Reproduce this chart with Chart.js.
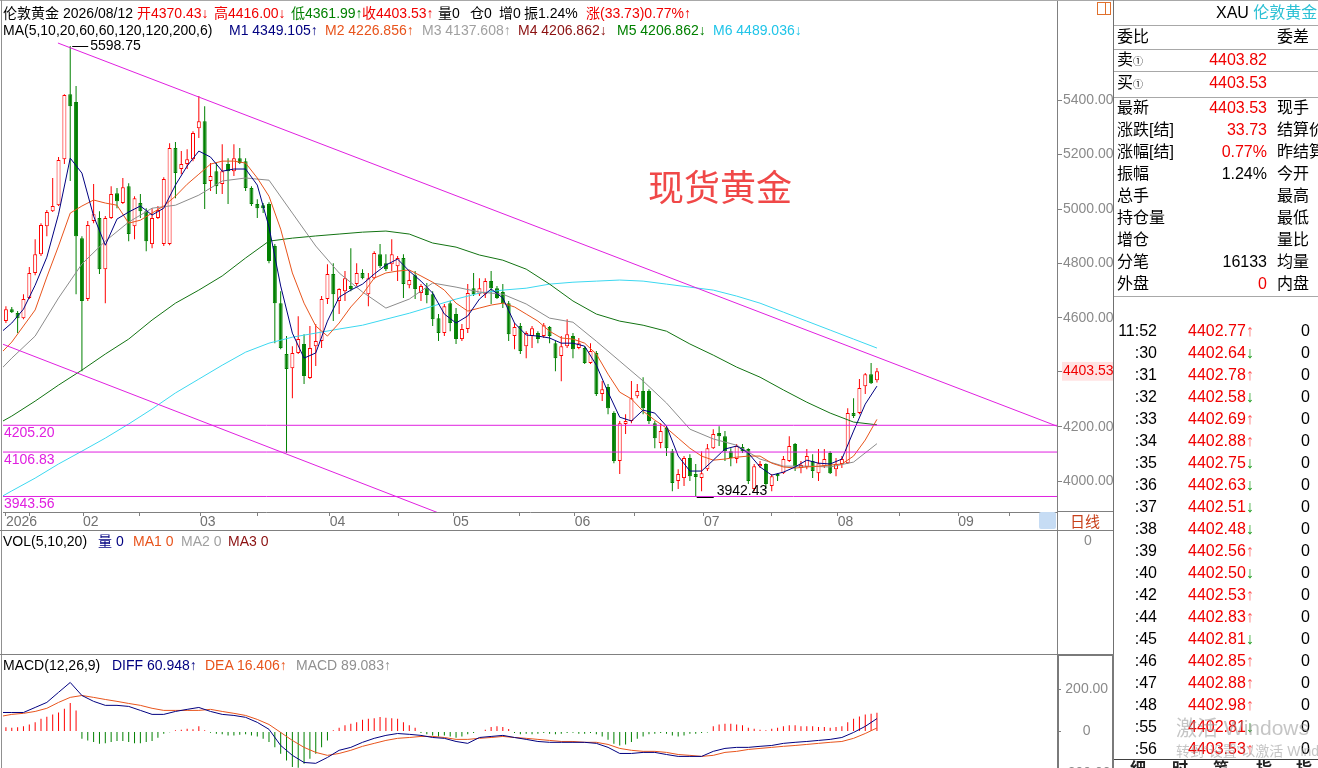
<!DOCTYPE html>
<html><head><meta charset="utf-8">
<script src="https://cdn.jsdelivr.net/npm/chart.js@4.4.1/dist/chart.umd.min.js"></script>
<style>
html,body{margin:0;padding:0;width:1318px;height:768px;overflow:hidden;background:#fff;}
body{position:relative;font-family:"Liberation Sans","Noto Sans CJK SC",sans-serif;}
canvas{position:absolute;left:0;}
#main{top:0px;} #vol{top:531px;} #macd{top:655px;}
.t{position:absolute;white-space:nowrap;font-size:14px;line-height:18px;}
.p{position:absolute;white-space:nowrap;font-size:16px;line-height:20px;}
.ln{position:absolute;background:#a0a0a0;}
</style></head><body>
<canvas id="main" width="1113" height="531"></canvas>
<canvas id="vol" width="1113" height="124"></canvas>
<canvas id="macd" width="1113" height="135"></canvas>
<div id="ov"></div>
<script>
// ---------- DATA ----------
const candleOpen = [4588,4632,4618,4599,4673,4765,4834,4937,4992,5014,
5183,5422,5393,4893,4669,4956,4967,4779,4967,5058,
5022,5084,4937,5022,4992,4871,4967,4871,4871,5224,
5147,5165,5183,5297,5323,5103,5139,5092,5165,5139,
5187,5176,5077,5018,5014,5018,4864,4654,4467,4415,
4471,4504,4379,4496,4515,4669,4761,4662,4698,4717,
4724,4765,4687,4746,4834,4801,4797,4790,4820,4720,
4757,4691,4709,4687,4599,4544,4654,4614,4522,4559,
4709,4687,4687,4735,4709,4695,4654,4533,4570,4496,
4533,4544,4533,4566,4507,4460,4496,4533,4489,4489,
4434,4471,4320,4346,4250,4074,4210,4221,4312,4331,
4331,4213,4140,4195,4110,4000,4011,4085,4026,4011,
4044,4121,4177,4165,4110,4081,4125,4118,3971,4055,
4063,3982,4026,4029,4074,4136,4048,4052,4074,4029,
4055,4103,4044,4063,4066,4250,4250,4349,4393,4370.43];
const candleHigh = [4643,4640,4625,4687,4787,4889,4948,4996,5114,5191,
5422,5598.75,5452,4900,4956,5092,4992,4974,5084,5077,
5114,5095,5047,5055,5003,5003,5011,5117,5242,5246,
5213,5220,5286,5415,5378,5169,5169,5238,5187,5238,
5224,5187,5084,5036,5022,5025,4871,4698,4533,4496,
4606,4540,4570,4577,4680,4797,4801,4709,4772,4856,
4801,4779,4765,4845,4871,4834,4889,4827,4834,4772,
4772,4724,4728,4698,4614,4651,4662,4636,4577,4724,
4765,4746,4746,4772,4717,4724,4662,4581,4581,4551,
4570,4551,4581,4570,4515,4533,4595,4544,4526,4496,
4507,4478,4368,4357,4257,4221,4246,4368,4357,4382,
4338,4221,4213,4202,4118,4044,4092,4099,4063,4110,
4136,4191,4202,4184,4121,4136,4136,4121,4063,4074,
4066,4026,4029,4092,4165,4140,4074,4118,4099,4118,
4118,4110,4085,4092,4268,4305,4375,4397,4434,4416.00];
const candleLow = [4581,4618,4544,4595,4669,4757,4827,4900,4989,5011,
5165,5103,4687,4404,4662,4948,4761,4654,4963,5003,
5018,4882,4889,4967,4845,4856,4963,4864,4867,5040,
5128,5147,5176,5261,5000,5066,5055,5055,5018,5121,
5165,5066,5011,4967,4985,4801,4507,4485,4103,4305,
4467,4357,4375,4423,4489,4651,4588,4614,4662,4698,
4717,4742,4643,4742,4783,4772,4772,4735,4673,4709,
4669,4662,4654,4570,4515,4533,4551,4504,4515,4544,
4680,4680,4673,4651,4669,4636,4515,4485,4467,4452,
4489,4507,4526,4507,4404,4367,4489,4452,4485,4430,
4430,4313,4294,4246,4066,4026,4173,4213,4305,4246,
4210,4121,4121,4092,3963,3971,3982,4000,3942.43,3963,
4037,4118,4129,4074,4055,4066,4103,3989,3963,4048,
3971,3963,4000,4026,4070,4037,4029,4044,4011,4000,
4048,4026,4018,4048,4063,4232,4246,4320,4357,4361.99];
const candleClose = [4632,4621,4599,4669,4765,4834,4941,4989,5011,5180,
5419,5378,4900,4662,4941,4981,4779,4967,5055,5029,
5080,4908,5040,4992,4882,4967,4996,5110,5224,5132,
5165,5183,5279,5323,5092,5121,5084,5139,5139,5187,
5169,5077,5018,5003,5003,4809,4654,4489,4412,4471,
4522,4386,4489,4515,4669,4761,4687,4706,4746,4706,
4765,4746,4746,4838,4790,4779,4834,4820,4724,4739,
4706,4717,4684,4595,4544,4643,4581,4522,4559,4691,
4687,4709,4735,4709,4673,4654,4540,4566,4478,4544,
4562,4522,4573,4533,4452,4496,4540,4485,4507,4434,
4478,4320,4338,4268,4074,4213,4221,4305,4331,4268,
4221,4158,4184,4121,3993,4026,4085,4018,4015,4029,
4121,4173,4165,4110,4085,4129,4110,4000,4055,4063,
3989,4018,4018,4081,4129,4055,4059,4092,4037,4066,
4081,4029,4063,4081,4250,4239,4342,4393,4360,4403.53];

// moving averages (MA5/MA10 every 2 candles from index -1, others every 4 from index -3)
const ma5 = [4544,4581,4632,4720,4823,4981,5187,5132,4974,4867,
4963,4989,5011,4978,5003,5088,5158,5213,5191,5139,
5147,5147,5088,4934,4717,4544,4452,4471,4588,4676,
4702,4724,4761,4794,4816,4772,4735,4691,4614,4581,
4607,4669,4706,4673,4581,4537,4533,4526,4507,4507,
4496,4426,4327,4235,4221,4261,4250,4202,4092,4037,
4037,4077,4118,4129,4103,4052,4022,4033,4052,4077,
4066,4063,4081,4184,4283,4349.105];
const ma10 = [4467,4511,4570,4629,4750,4864,4985,5011,5033,5022,
5014,4948,4959,4985,5011,5047,5091,5128,5165,5176,
5176,5169,5114,5047,4926,4765,4654,4570,4533,4581,
4640,4687,4746,4765,4772,4776,4754,4731,4702,4654,
4625,4636,4647,4654,4640,4614,4588,4551,4526,4522,
4507,4467,4393,4327,4302,4257,4224,4195,4158,4121,
4092,4077,4081,4088,4092,4092,4066,4052,4048,4052,
4055,4059,4063,4092,4151,4226.856];
const ma20 = [4364,4452,4533,4673,4798,4882,4952,5003,5014,5051,
5103,5114,5106,4985,4864,4765,4695,4636,4669,4728,
4713,4695,4687,4651,4599,4584,4514,4441,4368,4287,
4191,4155,4132,4081,4055,4055,4052,4070,4137.608];
const ma60 = [4191,4239,4294,4353,4408,4467,4522,4592,4654,4702,
4754,4820,4882,4893,4901,4908,4915,4919,4908,4875,
4860,4831,4812,4779,4724,4662,4614,4588,4573,4551,
4504,4463,4419,4382,4335,4290,4250,4217,4206.862];
const ma120 = [3916,3964,4011,4063,4110,4158,4210,4265,4324,4375,
4426,4474,4507,4529,4544,4559,4573,4595,4617,4643,
4669,4691,4702,4709,4724,4731,4735,4739,4735,4724,
4713,4702,4680,4654,4621,4588,4555,4522,4489.036];

const macdDiff = [90,90,90,114,138,186,233,171,143,124,124,
119,100,81,81,95,105,114,95,81,76,
67,43,10,-67,-114,-148,-152,-124,-90,-76,
-52,-33,-19,-10,-14,-19,-29,-33,-48,-57,
-29,-24,-19,-29,-38,-48,-52,-52,-52,-52,
-57,-76,-105,-105,-100,-100,-110,-119,-119,-119,
-95,-81,-76,-76,-71,-67,-57,-52,-48,-43,
-38,-29,-5,24,60.948];
const macdDea = [71,81,86,95,110,138,162,171,162,152,143,
133,124,110,100,100,100,100,105,95,86,
76,57,33,-5,-43,-76,-100,-114,-105,-90,
-71,-57,-43,-33,-29,-24,-24,-29,-38,-38,
-33,-29,-24,-29,-33,-38,-43,-48,-48,-52,
-52,-62,-81,-90,-95,-95,-100,-110,-114,-119,
-114,-100,-95,-86,-81,-76,-71,-67,-62,-57,
-52,-48,-33,-10,16.406];
const macdHist = [20,17,20,24,33,44,60,70,80,90,108,135,100,
-35,-43,-51,-59,-56,-51,-46,-46,-51,-56,-56,-51,-46,-30,
-11,-4,5,8,13,10,24,5,
-6,-11,-14,-19,-19,-16,-14,-19,-24,-35,-51,-75,-106,-138,-170,-173,-154,-130,-106,-75,-43,
5,17,29,37,44,56,60,63,68,65,63,60,44,29,17,
-8,-14,-19,-24,-19,-24,-30,-24,-14,-8,-3,
8,21,24,21,11,
-8,-14,-11,-14,-11,-8,-11,-14,-11,-8,-6,-11,-11,-8,-14,-24,-40,-59,-67,-62,-51,-35,-24,-14,-11,-8,-11,-19,-24,-19,-11,-11,-8,-5,
24,33,37,37,33,29,17,13,8,5,13,17,24,29,29,24,24,24,21,21,17,21,24,44,60,71,81,84,89.083];

const levelPrices = [4205.20, 4106.83, 3943.56];
const trendUpperIdx = [8.9, 179.8], trendUpperPrice = [5610, 4202];
const trendLowerIdx = [-0.5, 81.1], trendLowerPrice = [4503, 3824];

const priceTicks = [4000, 4200, 4600, 4800, 5000, 5200, 5400];
const lastPrice = 4403.53;
const monthTickIdx = [0, 13.2, 33.2, 55.4, 76.5, 97.3, 119.4, 142.3, 162.9];
const monthTickText = ['2026','02','03','04','05','06','07','08','09'];
const midTickIdx = [4, 22.9, 43.1, 67.1, 87.8, 107.6, 131, 152.9, 171.7];
const macdTicks = [-200, 0, 200];
const volTicks = [0];

const quoteLabels = ['最新','涨跌[结]','涨幅[结]','振幅','总手','持仓量','增仓','分笔','外盘'];
const quoteValues = ['4403.53','33.73','0.77%','1.24%','','','','16133','0'];
const quoteRight  = ['现手','结算价','昨结算','今开','最高','最低','量比','均量','内盘'];
const tickTimes = ['11:52',':30',':31',':32',':33',':34',':35',':36',':37',':38',':39',':40',':42',':44',':45',':46',':47',':48',':55',':56'];
const tickPrices = [4402.77,4402.64,4402.78,4402.58,4402.69,4402.88,4402.75,4402.63,4402.51,4402.48,4402.56,4402.50,4402.53,4402.83,4402.81,4402.85,4402.88,4402.98,4402.81,4403.53];
const tickDirs = ['↑','↓','↑','↓','↑','↑','↓','↓','↓','↓','↑','↓','↑','↑','↓','↑','↑','↑','↓','↑'];
const tickVols = [0,0,0,0,0,0,0,0,0,0,0,0,0,0,0,0,0,0,0,0];

// ---------- STYLE ----------
const RED='#ff0000', GREEN='#008000', NAVY='#000080', ORANGE='#e8541c', GRAY='#8c8c8c',
      DKGREEN='#127312', CYAN='#3cd8f0', MAG='#e020e0', AXC='#808080';
const xMin = -0.5, xMax = 179.8;
const yMin = 3886.5, yMax = 5764.5;
Chart.defaults.font.family = '"Liberation Sans","Noto Sans CJK SC",sans-serif';
Chart.defaults.font.size = 14;

const pts = (arr, start, step) => arr.map((v,k)=>({x:start+k*step, y:v}));
const line = (data, color, order) => ({type:'line', data, borderColor:color, borderWidth:1, pointRadius:0, fill:false, tension:0, order});
const isUp = i => candleClose[i] >= candleOpen[i];
const idx = candleClose.map((_,i)=>i);
const fitX = h => s => { s.height = h; s.paddingLeft = 0; s.paddingRight = 0; };
const fitY = s => { s.width = 56; s.paddingTop = 0; s.paddingBottom = 0; };
const hiddenX = () => ({type:'linear', min:xMin, max:xMax, offset:false, display:true,
  grid:{display:false, drawTicks:false, offset:false}, border:{display:false}, ticks:{display:false},
  afterFit:fitX(0)});
const baseOpts = {responsive:false, animation:false, devicePixelRatio:1,
  plugins:{legend:{display:false}, tooltip:{enabled:false}}};

const annot = {
  id:'annot',
  afterDatasetsDraw(chart){
    const {ctx, scales:{x,y}, chartArea} = chart;
    ctx.save();
    ctx.font = '14px "Liberation Sans"';
    const hi = Math.max(...candleHigh), hiI = candleHigh.indexOf(hi);
    let px = x.getPixelForValue(hiI), py = Math.round(y.getPixelForValue(hi))+0.5;
    ctx.strokeStyle='#000'; ctx.lineWidth=1;
    ctx.beginPath(); ctx.moveTo(px+2,py); ctx.lineTo(px+18,py); ctx.stroke();
    ctx.fillStyle='#000'; ctx.textBaseline='middle'; ctx.textAlign='left';
    ctx.fillText(hi.toFixed(2), px+20, py);
    const lo = Math.min(...candleLow), loI = candleLow.indexOf(lo);
    px = x.getPixelForValue(loI); py = Math.round(y.getPixelForValue(lo))+0.5;
    ctx.beginPath(); ctx.moveTo(px+1,py); ctx.lineTo(px+18,py); ctx.stroke();
    ctx.textBaseline='bottom';
    ctx.fillText(lo.toFixed(2), px+21, py+1);
    ctx.fillStyle=MAG; ctx.textBaseline='top';
    levelPrices.forEach(p=>{ ctx.fillText(p.toFixed(2), chartArea.left+1, y.getPixelForValue(p)+1); });
    ctx.restore();
  }
};

new Chart(document.getElementById('main'), {
  type:'bar',
  data:{datasets:[
    ...levelPrices.map(p=>line([{x:xMin,y:p},{x:xMax,y:p}], MAG, 0)),
    line(trendUpperIdx.map((v,k)=>({x:v,y:trendUpperPrice[k]})), MAG, 0),
    line(trendLowerIdx.map((v,k)=>({x:v,y:trendLowerPrice[k]})), MAG, 0),
    line(pts(ma5,-1,2), NAVY, 1),
    line(pts(ma10,-1,2), ORANGE, 1),
    line(pts(ma20,-3,4), GRAY, 1),
    line(pts(ma60,-3,4), DKGREEN, 1),
    line(pts(ma120,-3,4), CYAN, 1),
    {type:'bar', data: idx.map(i=>({x:i, y:[candleOpen[i], candleClose[i]]})), grouped:false, maxBarThickness:4,
     inflateAmount:0, borderSkipped:false, borderWidth:1, minBarLength:1,
     backgroundColor: c=> isUp(c.dataIndex)?'#ffffff':GREEN, borderColor: c=> isUp(c.dataIndex)?RED:GREEN, order:2},
    {type:'bar', data: idx.map(i=>({x:i, y:[candleLow[i], candleHigh[i]]})), grouped:false, maxBarThickness:1,
     inflateAmount:0, borderWidth:0, backgroundColor: c=> isUp(c.dataIndex)?RED:GREEN, order:3}
  ]},
  options:{...baseOpts,
    layout:{autoPadding:false, padding:{left:3, top:1, right:0, bottom:0}},
    scales:{
      x:{type:'linear', min:xMin, max:xMax, offset:false,
         grid:{drawOnChartArea:false, drawTicks:true, tickLength:4, color:AXC, offset:false},
         border:{display:true, color:AXC},
         ticks:{autoSkip:false, maxRotation:0, minRotation:0, align:'start', padding:-2, color:'#707070', font:{size:14},
           callback:(v)=>{ const k = monthTickIdx.findIndex(m=>Math.abs(m-v)<1e-6); return k>=0?monthTickText[k]:''; }},
         afterBuildTicks:s=>{ s.ticks = monthTickIdx.concat(midTickIdx).sort((a,b)=>a-b).map(v=>({value:v})); },
         afterFit:fitX(19)},
      y:{type:'linear', position:'right', min:yMin, max:yMax,
         grid:{drawOnChartArea:false, tickLength:5, color:AXC},
         border:{display:true, color:AXC},
         ticks:{padding:1, font:{size:14},
           color:c=> (c.tick && Math.abs(c.tick.value-lastPrice)<1e-6)?'#f00000':'#8a8a8a',
           showLabelBackdrop:c=> !!(c.tick && Math.abs(c.tick.value-lastPrice)<1e-6),
           backdropColor:'#ffe2e2', backdropPadding:1,
           callback:v=>Number(v).toFixed(2)},
         afterBuildTicks:s=>{ s.ticks = priceTicks.concat([lastPrice]).sort((a,b)=>a-b).map(v=>({value:v})); },
         afterFit:fitY}
    }
  },
  plugins:[annot]
});

new Chart(document.getElementById('vol'), {
  type:'bar', data:{datasets:[]},
  options:{...baseOpts,
    layout:{autoPadding:false, padding:{left:3, top:0, right:0, bottom:0}},
    scales:{
      x:hiddenX(),
      y:{type:'linear', position:'right', min:-11.4, max:1, bounds:'data',
         grid:{drawOnChartArea:false, drawTicks:false, tickLength:0},
         border:{display:true, color:AXC},
         ticks:{padding:27, color:'#8a8a8a', font:{size:14}, callback:v=>String(v)},
         afterBuildTicks:s=>{ s.ticks = volTicks.map(v=>({value:v})); },
         afterFit:fitY}
    }}
});

new Chart(document.getElementById('macd'), {
  type:'bar',
  data:{datasets:[
    line(pts(macdDiff,-1,2), NAVY, 0),
    line(pts(macdDea,-1,2), ORANGE, 0),
    {type:'bar', data: macdHist.map((v,i)=>({x:i,y:v})), grouped:false, maxBarThickness:1, inflateAmount:0, borderWidth:0,
     backgroundColor:c=> macdHist[c.dataIndex]>=0?RED:GREEN, order:1}
  ]},
  options:{...baseOpts,
    layout:{autoPadding:false, padding:{left:3, top:1, right:0, bottom:0}},
    scales:{
      x:hiddenX(),
      y:{type:'linear', position:'right', min:-279, max:359, bounds:'data',
         grid:{drawOnChartArea:false, tickLength:4, color:AXC},
         border:{display:true, color:AXC},
         ticks:{padding:2, crossAlign:'center', color:'#8a8a8a', font:{size:14}, callback:v=> v===0?'0':Number(v).toFixed(2)},
         afterBuildTicks:s=>{ s.ticks = macdTicks.map(v=>({value:v})); },
         afterFit:fitY}
    }}
});

// ---------- overlays (text & frame) ----------
const ov = document.getElementById('ov');
function el(cls, left, top, html, style){ const d=document.createElement('div'); d.className=cls; d.style.left=left+'px'; d.style.top=top+'px'; d.innerHTML=html; if(style) d.style.cssText+=style; ov.appendChild(d); return d; }
function hl(left, top, w, color, h){ el('ln', left, top, '', `width:${w}px;height:${h||1}px;background:${color||'#a0a0a0'}`); }
function vl(left, top, h, color, w){ el('ln', left, top, '', `width:${w||1}px;height:${h}px;background:${color||'#a0a0a0'}`); }

// frame lines
hl(0,0,1318,'#a8a8a8');
vl(1,0,768,'#909090');
vl(1057,512,18,'#808080');
vl(1113,0,768,'#707070');
hl(1057,511,56,'#808080');
hl(0,530,1113,'#808080');
hl(0,654,1057,'#808080');
el('ln',1057,654,'', 'width:53px;height:112px;background:transparent;border:2px solid #7a7a7a');
el('ln',1039,512,'', 'width:17px;height:17px;background:#c6dcf4;border-radius:2px');
el('t',1070,512,'日线','font-size:15px;color:#c8401a;line-height:19px');
el('ln',1097,2,'', 'width:12px;height:11px;background:#fff;border:1px solid #e0702c');
vl(1105,3,11,'#e0702c');

// header line 1
const H1 = [[3,'伦敦黄金','#000'],[63,'2026/08/12','#000'],[137,'开4370.43↓','#f00000'],[214,'高4416.00↓','#f00000'],
  [291,'低4361.99↑','#008000'],[362,'收4403.53↑','#f00000'],[438,'量0','#000'],[470,'仓0','#000'],[499,'增0','#000'],
  [524,'振1.24%','#000'],[586,'涨(33.73)0.77%↑','#f00000']];
H1.forEach(([x,s,c])=>el('t',x,4,s,'color:'+c));
const H2 = [[3,'MA(5,10,20,60,60,120,120,200,6)','#000'],[229,'M1 4349.105↑',NAVY],[325,'M2 4226.856↑',ORANGE],
  [422,'M3 4137.608↑','#a0a0a0'],[518,'M4 4206.862↓','#8b1010'],[617,'M5 4206.862↓','#008000'],[713,'M6 4489.036↓','#20c4e8']];
H2.forEach(([x,s,c])=>el('t',x,21,s,'color:'+c));
el('t',648,164,'现货黄金','font-size:36px;line-height:42px;color:#f04848;font-family:"Noto Sans CJK SC",sans-serif');

// VOL header
[[3,'VOL(5,10,20)','#000'],[98,'量 0',NAVY],[133,'MA1 0',ORANGE],[181,'MA2 0','#a0a0a0'],[228,'MA3 0','#8b1010']]
  .forEach(([x,s,c])=>el('t',x,532,s,'color:'+c));
// MACD header
[[3,'MACD(12,26,9)','#000'],[112,'DIFF 60.948↑',NAVY],[205,'DEA 16.406↑',ORANGE],[296,'MACD 89.083↑','#909090']]
  .forEach(([x,s,c])=>el('t',x,656,s,'color:'+c));

// right info panel
el('p',1216,3,'XAU <span style="color:#2cc0d4">伦敦黄金</span>','color:#000');
[25,49,71,97,296].forEach(y=>hl(1114,y,204,'#a8a8a8'));
el('p',1117,27,'委比','color:#000'); el('p',1277,27,'委差','color:#000');
el('p',1117,50,'卖<span style="font-size:10px">①</span>','color:#000');
el('p',1117,73,'买<span style="font-size:10px">①</span>','color:#000');
el('p',1150,50,'4403.82','color:#f00000;width:117px;text-align:right');
el('p',1150,73,'4403.53','color:#f00000;width:117px;text-align:right');
const qColors = ['#f00000','#f00000','#f00000','#000','#000','#000','#000','#000','#f00000'];
quoteLabels.forEach((s,k)=>{
  const top = 98 + 22*k;
  el('p',1117,top,s,'color:#000');
  el('p',1150,top,quoteValues[k],'color:'+qColors[k]+';width:117px;text-align:right');
  el('p',1277,top,quoteRight[k],'color:#000');
});
tickTimes.forEach((s,k)=>{
  const top = 321 + 22*k;
  el('p',1110,top,s,'color:#000;width:47px;text-align:right');
  el('p',1188,top,tickPrices[k].toFixed(2)+'<span style="color:'+(tickDirs[k]==='↑'?'#ff5a5a':'#1a9a1a')+'">'+tickDirs[k]+'</span>','color:#f00000');
  el('p',1270,top,String(tickVols[k]),'color:#000;width:40px;text-align:right');
});
hl(1114,759,204,'#404040');
[[1130,'细'],[1172,'时'],[1213,'笔'],[1256,'指'],[1296,'指']].forEach(([x,s])=>el('p',x,759,s,'font-weight:bold;color:#222'));
el('p',1176,716,'激活 Windows','font-size:21px;line-height:24px;color:rgba(150,150,150,0.55)');
el('p',1176,742,'转到“设置”以激活 Windows。','font-size:14px;line-height:18px;color:rgba(150,150,150,0.55)');
</script>
</body></html>
